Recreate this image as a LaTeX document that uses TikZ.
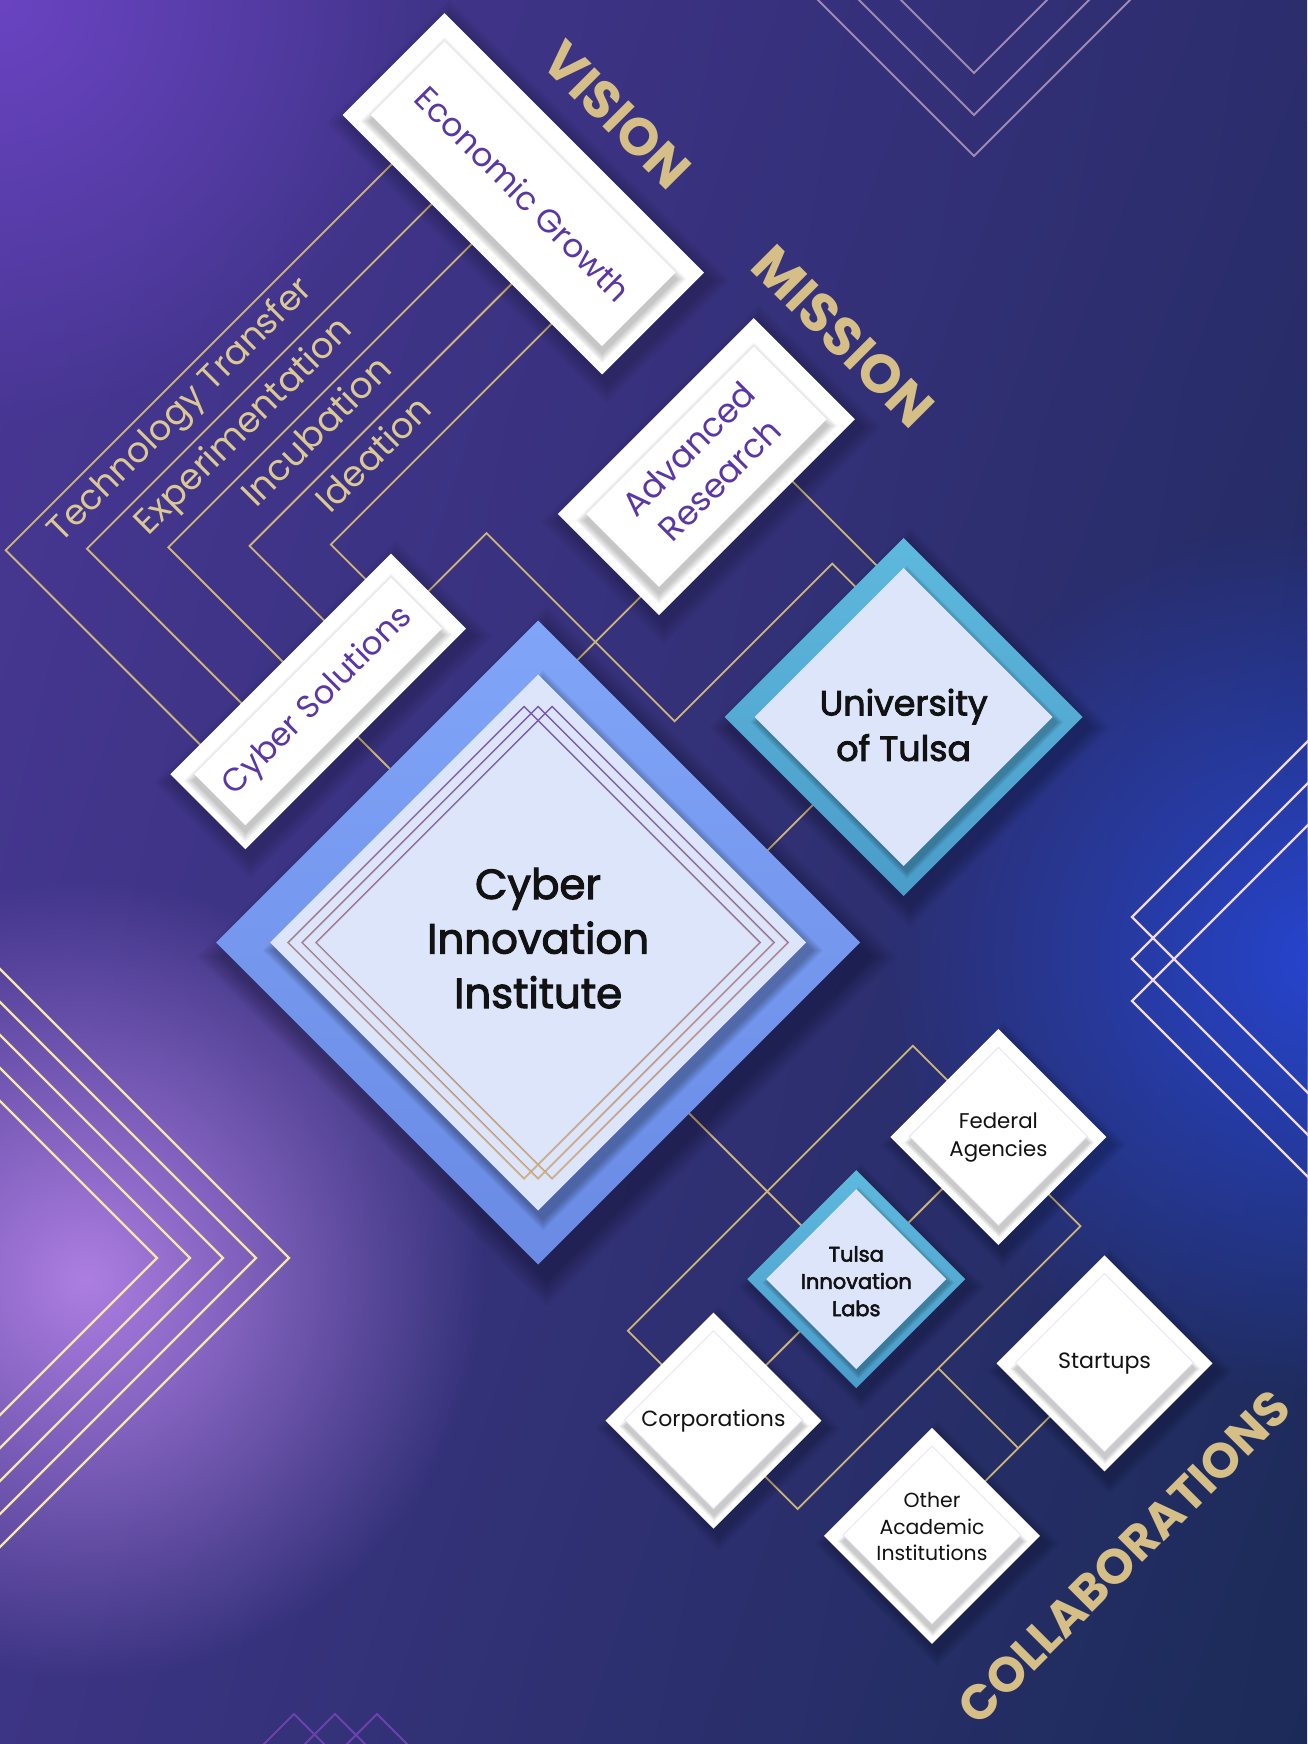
\documentclass[tikz,border=0pt]{standalone}
\usepackage{fontspec}
\setmainfont{Poppins}
\newfontfamily\popmed[FakeBold=2.6]{Poppins}
\usepackage{graphicx}
\usetikzlibrary{calc,shapes.geometric,fadings,shadings}

\definecolor{bgUL}{HTML}{4A3796}
\definecolor{bgUR}{HTML}{2B2D6D}
\definecolor{bgLL}{HTML}{3C3484}
\definecolor{bgLR}{HTML}{1B2B58}
\definecolor{glowTL}{HTML}{6A44C2}
\definecolor{glowV}{HTML}{AD7EE2}
\definecolor{glowB}{HTML}{2745CF}
\definecolor{wire}{HTML}{CDB678}
\definecolor{labelgold}{HTML}{DBC892}
\definecolor{titlegold}{HTML}{D6BF87}
\definecolor{boxtext}{HTML}{5A36A6}
\definecolor{ink}{HTML}{121212}
\definecolor{periwL}{HTML}{80A5F8}
\definecolor{periwD}{HTML}{6A8AE4}
\definecolor{skyL}{HTML}{5EB9DE}
\definecolor{skyD}{HTML}{4A9CC9}
\definecolor{pale}{HTML}{DDE5FB}
\definecolor{lav}{HTML}{E6E0F7}
\definecolor{linepurple}{HTML}{7A58AE}
\definecolor{linegold}{HTML}{D8B878}
\definecolor{chevA}{HTML}{A088B2}
\definecolor{chevB}{HTML}{F1D9E1}
\definecolor{chevC}{HTML}{F4E7A8}
\definecolor{chevD}{HTML}{6C42AE}

\tikzfading[name=glowfade, inner color=transparent!0, outer color=transparent!100]
\tikzfading[name=fadedown, top color=transparent!100, bottom color=transparent!0]

\pgfdeclarelayer{back}
\pgfdeclarelayer{wires}
\pgfdeclarelayer{shade}
\pgfsetlayers{back,wires,shade,main}

\tikzset{
  wirestyle/.style={draw=wire, line width=1.8pt},
  gem/.style={diamond, aspect=1, inner sep=0pt, outer sep=0pt, minimum size=#1},
  slab/.style={rectangle, inner sep=0pt, outer sep=0pt},
  chevline/.style={draw=#1, line width=2.2pt, line join=miter},
  stagelabel/.style={rotate=45, anchor=mid east, inner sep=0pt, text=labelgold},
}

% text scaled to a given width (single line / centred lines)
\newcommand{\fitw}[2]{\resizebox{#1pt}{!}{#2}}
\newcommand{\fitm}[2]{\resizebox{#1pt}{!}{\fontsize{10}{13}\selectfont\begin{tabular}{@{}c@{}}#2\end{tabular}}}

% white diamond with a raised inner panel
\newcommand{\whitegem}[3]{%
  \node[gem=216pt, fill=white] (#1) at (#2,#3) {};
  \foreach \k in {1,...,5}
    \node[gem={178+2.5*\k}, fill=black, opacity=0.045] at ($(#1)+(4.5,-3.5)$) {};
  \node[gem=178pt, fill=white, draw=lav, line width=0.8pt] at ($(#1)+(-0.5,0.5)$) {};
}

% white plate with a raised inner panel: name, u, v, angle, length, width, inset
\newcommand{\plaque}[7]{%
  \node[slab, rotate=#4, minimum width=#5pt, minimum height=#6pt, fill=white] (#1) at (#2,#3) {};
  \pgfmathsetmacro{\pw}{#5-2*#7}\pgfmathsetmacro{\ph}{#6-2*#7}
  \foreach \k in {1,...,6}
    \node[slab, rotate=#4, minimum width={\pw+2.5*\k}, minimum height={\ph+2.5*\k}, fill=black, opacity=0.04] at ($(#1)+(4.5,-4.5)$) {};
  \node[slab, rotate=#4, minimum width=\pw pt, minimum height=\ph pt, fill=white] at (#1) {};
}

\begin{document}
\begin{tikzpicture}[x=1pt,y=-1pt]
\useasboundingbox (0,0) rectangle (1307,1744);

% ---------- background ----------
\begin{pgfonlayer}{back}
  \shade[upper left=bgUL, upper right=bgUR, lower left=bgLL, lower right=bgLR]
    (0,0) rectangle (1307,1744);
  \fill[glowTL, path fading=glowfade] (0,0) circle (430);
  \fill[glowV, path fading=glowfade] (85,1280) circle (400);
  \fill[glowB, path fading=glowfade] (1320,960) circle (440);
  \foreach \yy in {73,115,156}
    \draw[chevline=chevA, line width=1.8pt] (774,{\yy-200}) -- (974,\yy) -- (1174,{\yy-200});
  \foreach \yy in {917,959,1001}
    \draw[chevline=chevB] (1432,{\yy-300}) -- (1132,\yy) -- (1432,{\yy+300});
  \foreach \xx in {157,190,223,256,289}
    \draw[chevline=chevC] ({\xx-400},858) -- (\xx,1258) -- ({\xx-400},1658);
  \foreach \xx in {294,335,377}
    \draw[chevline=chevD, line width=2pt] ({\xx-60},1774) -- (\xx,1714) -- ({\xx+60},1774);
\end{pgfonlayer}

% ---------- diagonal frame: u runs down-right, v runs up-right ----------
\begin{scope}[x={(0.70711pt,-0.70711pt)}, y={(0.70711pt,0.70711pt)}]

  % Cyber Innovation Institute
  \node[gem=644pt, top color=periwL, bottom color=periwD] (cii) at (1047,-286) {};
  \foreach \k in {1,...,6}
    \node[gem={536+4*\k}, fill=black, opacity=0.05] at ($(cii)+(9,-2)$) {};
  \node[gem=536pt, fill=pale] (ciicore) at (cii) {};
  \foreach \d in {-9.9,0,9.9}{
    \draw[linepurple, line width=1.4pt, line join=miter]
      ($(cii)+(\d-166.9,\d-166.9)$) -- ++(333.8,0) -- ++(0,333.8) -- ++(-333.8,0) -- cycle;
    \draw[linegold, line width=1.4pt, line join=miter, path fading=fadedown]
      ($(cii)+(\d-166.9,\d-166.9)$) -- ++(333.8,0) -- ++(0,333.8) -- ++(-333.8,0) -- cycle;
  }
  \node[text=ink] at (cii) {\popmed\fitm{222}{Cyber\\Innovation\\Institute}};

  % University of Tulsa
  \node[gem=358pt, top color=skyL, bottom color=skyD] (ut) at (1146,132) {};
  \foreach \k in {1,...,5}
    \node[gem={298+3*\k}, fill=black, opacity=0.05] at ($(ut)+(6,-1.5)$) {};
  \node[gem=298pt, fill=pale] at (ut) {};
  \node[text=ink] at ($(ut)+(8.5,-8.5)$) {\popmed\fitm{168}{University\\of Tulsa}};

  % Tulsa Innovation Labs
  \node[gem=218pt, top color=skyL, bottom color=skyD] (til) at (1510,-299) {};
  \foreach \k in {1,...,5}
    \node[gem={180+2.5*\k}, fill=black, opacity=0.05] at ($(til)+(4,-1)$) {};
  \node[gem=180pt, fill=pale] at (til) {};
  \node[text=ink] at ($(til)+(3,-3)$) {\popmed\fitm{111}{Tulsa\\Innovation\\Labs}};

  % collaboration partners
  \whitegem{fed}{1510}{-98}
  \whitegem{corp}{1509}{-500}
  \whitegem{start}{1745}{-183}
  \whitegem{oai}{1745}{-427}
  \node[text=ink] at (fed) {\fitm{98}{Federal\\Agencies}};
  \node[text=ink] at (corp) {\fitw{144}{Corporations}};
  \node[text=ink] at (start) {\fitw{93}{Startups}};
  \node[text=ink] at ($(oai)+(-5,5)$) {\fitm{111}{Other\\Academic\\Institutions}};

  % vision / mission plates
  \plaque{eg}{507}{233}{-45}{367}{144}{20}
  \plaque{ar}{829.5}{169.5}{45}{277}{143}{20}
  \plaque{cs}{721}{-271}{45}{312}{106}{17}
  \node[rotate=-45, text=boxtext] at (eg) {\fitw{288}{Economic Growth}};
  \node[rotate=45, text=boxtext] at (ar) {\fitm{172}{Advanced\\Research}};
  \node[rotate=45, text=boxtext] at (cs) {\fitw{252}{Cyber Solutions}};

  % headings
  \node[rotate=-45, text=titlegold, font=\bfseries] at (518,355) {\fitw{182}{VISION}};
  \node[rotate=-45, text=titlegold, font=\bfseries] at (834,358) {\fitw{230}{MISSION}};
  \node[rotate=45, text=titlegold, font=\bfseries] at (1896,-306) {\fitw{446}{COLLABORATIONS}};

  % stage labels
  \node[stagelabel] at (425,16) {\fitw{356}{Technology Transfer}};
  \node[stagelabel] at (482,16) {\fitw{290}{Experimentation}};
  \node[stagelabel] at (538,16) {\fitw{194}{Incubation}};
  \node[stagelabel] at (595,16) {\fitw{146}{Ideation}};

  % soft drop shadows
  \begin{pgfonlayer}{shade}
    \foreach \k in {1,...,8}
      \node[gem={644+7*\k}, fill=black, opacity=0.035] at ($(cii)+(16,-4)$) {};
    \foreach \k in {1,...,7}
      \node[gem={358+6*\k}, fill=black, opacity=0.035] at ($(ut)+(12,-3)$) {};
    \foreach \k in {1,...,6}
      \node[gem={218+5*\k}, fill=black, opacity=0.035] at ($(til)+(9,-2)$) {};
    \foreach \n in {fed,corp,start,oai}
      \foreach \k in {1,...,6}
        \node[gem={216+5*\k}, fill=black, opacity=0.035] at ($(\n)+(9,-2)$) {};
    \foreach \n/\a/\w/\h in {eg/-45/367/144, ar/45/277/143, cs/45/312/106}
      \foreach \k in {1,...,6}
        \node[slab, rotate=\a, minimum width={\w+5*\k}, minimum height={\h+5*\k}, fill=black, opacity=0.035] at ($(\n)+(9,-2)$) {};
  \end{pgfonlayer}

  % connectors
  \begin{pgfonlayer}{wires}
    \draw[wirestyle] ($(eg)+(-114,0)$) -- ++(0,-618) -- ($(cs)+(0,-114)$);
    \draw[wirestyle] ($(eg)+(-57.5,0)$) -- ++(0,-559.5) -- ($(cs)+(0,-55.5)$);
    \draw[wirestyle] ($(eg)+(-1,0)$) -- ++(0,-501) -- ($(cs)+(0,3)$);
    \draw[wirestyle] ($(eg)+(55.5,0)$) -- ++(0,-442.5) -- ($(cs)+(0,61.5)$);
    \draw[wirestyle] ($(eg)+(112,0)$) -- ++(0,-384) -- ($(cs)+(0,120)$);
    \draw[wirestyle] ($(cs)+(0,3)$) -- ($(cii)+(0,18)$);
    \draw[wirestyle] (cs.center) -- ++(0,238) -- ++(266,0) -- ++(0,223) -- ($(ut)+(0,58)$);
    \draw[wirestyle] ($(ar)+(45.5,0)$) -- ($(cii)+(-172,0)$);
    \draw[wirestyle] ($(ar)+(0,50.5)$) -- ($(ut)+(0,88)$);
    \draw[wirestyle] ($(ut)+(-2,0)$) -- ($(cii)+(97,0)$);
    \draw[wirestyle] ($(cii)+(0,-14)$) -- ($(til)+(0,-1)$);
    \draw[wirestyle] ($(til)+(-3,0)$) -- ($(fed)+(-3,0)$);
    \draw[wirestyle] ($(til)+(-3,0)$) -- ($(corp)+(-2,0)$);
    \draw[wirestyle] ($(corp)+(0,3)$) -- ++(-124,0) -- ++(0,403) -- ($(fed)+(0,4)$);
    \draw[wirestyle] ($(fed)+(0,-5)$) -- ++(121,0) -- ++(0,-400) -- ($(corp)+(0,-3)$);
    \coordinate (jn) at ($(fed)+(121,-206)$);
    \draw[wirestyle] (jn) -- ($(start)+(-1,-121)$);
    \draw[wirestyle] ($(start)+(-1,0)$) -- ($(oai)+(-1,0)$);
  \end{pgfonlayer}
\end{scope}
\end{tikzpicture}
\end{document}
